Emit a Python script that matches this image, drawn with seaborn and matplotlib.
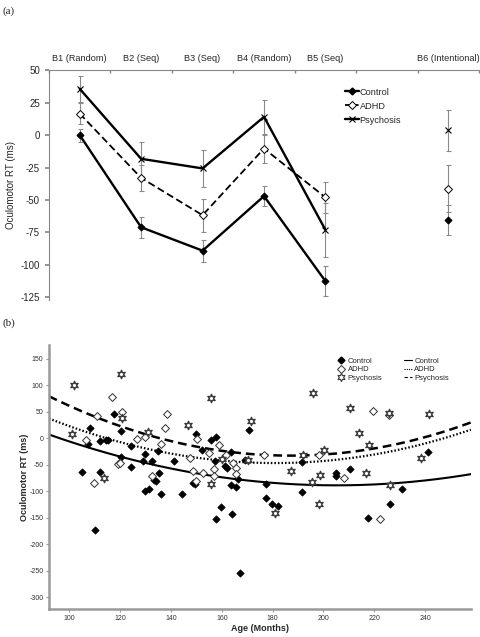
import numpy as np
import pandas as pd
import matplotlib
matplotlib.use("Agg")
import matplotlib.pyplot as plt
import seaborn as sns
from matplotlib.lines import Line2D

# ---------------- Panel (a) data ----------------
block_labels = ["B1 (Random)", "B2 (Seq)", "B3 (Seq)", "B4 (Random)", "B5 (Seq)", "", "B6 (Intentional)"]
block_pos = [0, 1, 2, 3, 4, 6]
groups = ["Control", "ADHD", "Psychosis"]
control_rt = [0, -71, -89, -47, -112.5, -65.5]
control_err = [5, 8, 8.5, 8, 11.7, 11.7]
adhd_rt = [16.5, -33, -61.7, -10.4, -48, -41.4]
adhd_err = [8.3, 9.7, 12.7, 10.8, 12, 18]
psych_rt = [35.6, -18.3, -25.7, 14, -73, 3.6]
psych_err = [10, 13, 14, 13, 21, 16]

# ---------------- Panel (b) data ----------------
control_age = [117.7, 108.2, 120.3, 107.5, 112.1, 114.3, 115.1, 124.4, 129.6, 134.8, 120.4, 129.1, 132.4,
               141.2, 124.2, 105, 112, 135.2, 133.3, 134, 129.9, 131.2, 136, 144.4, 148.5, 149.3, 110,
               170.9, 150, 155.8, 157.8, 152.3, 163.8, 157.3, 161.1, 162.2, 169, 191.6, 166.3,
               163.8, 165.5, 177.2, 177.5, 179.6, 182, 159.7, 157.7, 164.2, 167.2, 191.7,
               241, 205.1, 205.1, 210.4, 230.8, 226.1, 217.7]
control_rtb = [45, 20, 13, -12, -6, -3, -3, -14, -29, -24, -36, -43, -43,
               -44, -54, -64, -64, -66, -79, -81, -99, -96, -106, -106, -84, -87, -174,
               16, 7, -4, 2, -23, -26, -43, -52, -56, -42, -45, -77,
               -89, -92, -86, -112, -124, -128, -129, -153, -143, -254, -102,
               -26, -65, -72, -59, -95, -125, -151]
adhd_age = [116.9, 120.6, 111, 138.5, 137.5, 129.8, 126.5, 106.6, 136, 147.5, 119, 119.9, 132.4, 148.5,
            109.6, 150.3, 159, 154.8, 161.7, 164.3, 165.6, 157, 176.7, 198.4, 152.5, 156.9, 165.5,
            149.8, 219.6, 225.7, 208, 222.3]
adhd_rtb = [77, 50, 42, 46, 20, 3, -1, -3, -11, -38, -49, -47, -72, -62,
            -84, -1, -13, -28, -31, -46, -56, -58, -32, -32, -65, -71, -67,
            -81, 51, 44, -76, -153]
psych_age = [120.4, 101.9, 120.9, 146.6, 130.8, 100.9, 113.8, 155.6, 196, 171.5, 160, 170.4, 191.8,
             200.3, 187.4, 198.7, 155.6, 181.1, 195.4, 198.4, 210.5, 225.7, 241.6, 214.1, 218,
             238.3, 216.6, 226]
psych_rtb = [120, 100, 38, 24, 12, 7, -75, 76, 85, 33, -40, -41, -31,
             -23, -62, -70, -86, -141, -82, -125, 56, 48, 45, 9, -13,
             -38, -66, -89]

# Quadratic fit lines: (curvature, vertex age, vertex RT)
fit_control = (0.0075, 205, -89)
fit_adhd = (0.0106, 181, -47)
fit_psych = (0.0124, 187, -33)

sns.set_theme(style="white")
plt.rcParams["font.family"] = ["Liberation Sans", "DejaVu Sans"]
plt.rcParams["axes.unicode_minus"] = False

fig = plt.figure(figsize=(4.8, 6.37), dpi=100)

# ================= Panel (a) =================
ax = fig.add_axes([0.102, 0.529, 0.896, 0.361])
rows = []
for g, rts, errs in [("Control", control_rt, control_err), ("ADHD", adhd_rt, adhd_err),
                     ("Psychosis", psych_rt, psych_err)]:
    for p, r, e in zip(block_pos, rts, errs):
        rows.append({"group": g, "pos": p, "rt": r, "err": e})
dfa = pd.DataFrame(rows)

styles = {
    "Control": dict(ls="-", lw=1.7, marker="D", mfc="black", ms=3.5, mew=0.8, dashes=None),
    "ADHD": dict(ls="--", lw=1.3, marker="D", mfc="white", ms=4, mew=0.7, dashes=(4, 2)),
    "Psychosis": dict(ls="-", lw=1.7, marker="x", mfc="none", ms=5, mew=0.8, dashes=None),
}
for g in groups:
    sub = dfa[dfa.group == g]
    ax.errorbar(sub.pos, sub.rt, yerr=sub.err, fmt="none", ecolor="#8a8a8a",
                elinewidth=0.8, capsize=1.8, capthick=0.8, zorder=1)
for g in groups:
    st = styles[g]
    sub = dfa[(dfa.group == g) & (dfa.pos < 5)]
    kw = dict(color="black", lw=st["lw"], marker=st["marker"], markersize=st["ms"],
              markerfacecolor=st["mfc"], markeredgecolor="black", markeredgewidth=st["mew"],
              legend=False, zorder=3)
    if st["dashes"]:
        kw["dashes"] = st["dashes"]
    sns.lineplot(data=sub, x="pos", y="rt", ax=ax, **kw)
    sub6 = dfa[(dfa.group == g) & (dfa.pos == 6)]
    sns.lineplot(data=sub6, x="pos", y="rt", ax=ax, color="black", lw=0, marker=st["marker"],
                 markersize=st["ms"], markerfacecolor=st["mfc"], markeredgecolor="black",
                 markeredgewidth=st["mew"], legend=False, zorder=3)

ax.set_xlim(-0.5, 6.5)
ax.set_ylim(-127, 50)
ax.xaxis.tick_top()
ax.set_xticks(range(7))
ax.set_xticklabels(block_labels, fontsize=6.6)
ax.set_xticks(np.arange(-0.5, 7.0, 1.0), minor=True)
ax.tick_params(axis="x", which="major", length=0, pad=5, top=True, bottom=False)
ax.tick_params(axis="x", which="minor", length=2.5, direction="in", color="#888888", top=True, bottom=False)
ax.set_yticks([50, 25, 0, -25, -50, -75, -100, -125])
ax.tick_params(axis="y", which="major", length=3, direction="out", color="#888888", labelsize=7, left=True)
ax.set_xlabel("")
ax.set_ylabel("Oculomotor RT (ms)", fontsize=7, labelpad=3)
for s in ["bottom", "right"]:
    ax.spines[s].set_visible(False)
for s in ["top", "left"]:
    ax.spines[s].set_color("#888888")
    ax.spines[s].set_linewidth(0.8)

handles_a = [
    Line2D([], [], color="black", lw=1.7, marker="D", ms=3.5, mfc="black", mec="black"),
    Line2D([], [], color="black", lw=1.3, ls=(0, (3, 1.5)), marker="D", ms=4, mfc="white", mec="black", mew=0.7),
    Line2D([], [], color="black", lw=1.7, marker="x", ms=5, mec="black", mew=0.8),
]
ax.legend(handles_a, groups, loc="upper left", bbox_to_anchor=(0.68, 0.94), frameon=False,
          fontsize=6.6, handlelength=1.5, handletextpad=0.1, labelspacing=0.55, borderaxespad=0)

fig.text(0.005, 0.978, "(a)", fontsize=8, family=["Liberation Serif", "DejaVu Serif"])
fig.text(0.005, 0.488, "(b)", fontsize=8, family=["Liberation Serif", "DejaVu Serif"])

# ================= Panel (b) =================
bx = fig.add_axes([0.102, 0.044, 0.879, 0.414])
dfc = pd.DataFrame({"age": control_age, "rt": control_rtb})
dfh = pd.DataFrame({"age": adhd_age, "rt": adhd_rtb})
dfp = pd.DataFrame({"age": psych_age, "rt": psych_rtb})

ages = np.linspace(92, 258, 200)
fits = []
for g, (a, h, k) in [("Control", fit_control), ("ADHD", fit_adhd), ("Psychosis", fit_psych)]:
    fits.append(pd.DataFrame({"group": g, "age": ages, "rt": a * (ages - h) ** 2 + k}))
dff = pd.concat(fits)
sns.lineplot(data=dff[dff.group == "Control"], x="age", y="rt", ax=bx, color="black", lw=1.5, zorder=2)
sns.lineplot(data=dff[dff.group == "ADHD"], x="age", y="rt", ax=bx, color="black", lw=1.6,
             dashes=(0.7, 0.9), zorder=2)
sns.lineplot(data=dff[dff.group == "Psychosis"], x="age", y="rt", ax=bx, color="black", lw=1.8,
             dashes=(3.5, 2), zorder=2)

sns.scatterplot(data=dfc, x="age", y="rt", ax=bx, marker="D", s=14, color="black",
                edgecolor="black", linewidth=0.5, zorder=4)
sns.scatterplot(data=dfh, x="age", y="rt", ax=bx, marker="D", s=16, facecolor="white",
                edgecolor="#333333", linewidth=0.7, zorder=4)
sns.scatterplot(data=dfp, x="age", y="rt", ax=bx, marker=(6, 1, 0), s=38, facecolor="white",
                edgecolor="#3a3a3a", linewidth=0.9, zorder=4)
sns.scatterplot(data=dfp, x="age", y="rt", ax=bx, marker="o", s=9, facecolor="white",
                edgecolor="#3a3a3a", linewidth=0.7, zorder=5)

bx.set_xlim(92, 258)
bx.set_ylim(-322, 175)
bx.set_xticks([100, 120, 140, 160, 180, 200, 220, 240])
bx.set_yticks([-300, -250, -200, -150, -100, -50, 0, 50, 100, 150])
bx.tick_params(axis="both", length=2.5, width=0.8, direction="out", color="#999999",
               labelsize=5, labelcolor="#333333", pad=1.5, left=True, bottom=True)
for s in ["top", "right"]:
    bx.spines[s].set_visible(False)
for s in ["left", "bottom"]:
    bx.spines[s].set_color("#999999")
    bx.spines[s].set_linewidth(1.8)
bx.set_xlabel("Age (Months)", fontsize=6.5, fontweight="bold", labelpad=2)
bx.set_ylabel("Oculomotor RT (ms)", fontsize=6.5, fontweight="bold", labelpad=0)

handles_b = [
    Line2D([], [], lw=0, marker="D", ms=3.5, mfc="black", mec="black"),
    Line2D([], [], lw=0, marker="D", ms=4, mfc="white", mec="#333333", mew=0.7),
    Line2D([], [], lw=0, marker=(6, 1, 0), ms=6, mfc="white", mec="#3a3a3a", mew=0.8),
    Line2D([], [], color="black", lw=0.8),
    Line2D([], [], color="black", lw=0.8, ls=(0, (1, 1))),
    Line2D([], [], color="black", lw=0.8, ls=(0, (3, 2))),
]
labels_b = ["Control", "ADHD", "Psychosis", "Control", "ADHD", "Psychosis"]
bx.legend(handles_b, labels_b, ncol=2, loc="upper left", bbox_to_anchor=(0.675, 0.965), frameon=False,
          fontsize=5.5, handlelength=1.1, handletextpad=0.3, labelspacing=0.15, columnspacing=2.8,
          borderaxespad=0)

fig.savefig("out.png", dpi=100)
